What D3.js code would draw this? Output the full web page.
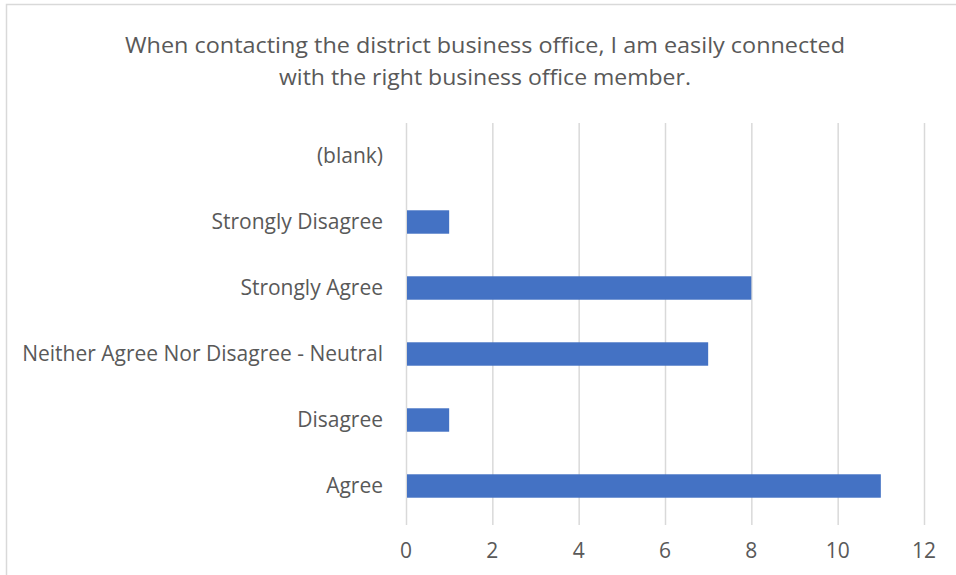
<!DOCTYPE html>
<html>
<head>
<meta charset="utf-8">
<script src="https://cdn.jsdelivr.net/npm/d3@7"></script>
<style>
  body { margin: 0; background: #fff; }
  svg text { font-family: "Open Sans", "Liberation Sans", sans-serif; fill: #595959; }
</style>
</head>
<body>
<svg id="chart" width="956" height="575"></svg>
<script>
// categories, bottom to top as in the picture
const categories = ["Agree", "Disagree", "Neither Agree Nor Disagree - Neutral", "Strongly Agree", "Strongly Disagree", "(blank)"];
const counts = [11, 1, 7, 8, 1, 0];
const xTicks = [0, 2, 4, 6, 8, 10, 12];
const titleLines = ["When contacting the district business office, I am easily connected", "with the right business office member."];

const svg = d3.select("#chart");
const plotLeft = 406, plotRight = 924, plotTop = 123, plotBottom = 519;

// outer border
svg.append("rect")
  .attr("x", 6.5).attr("y", 4.5)
  .attr("width", 960).attr("height", 600)
  .attr("fill", "none").attr("stroke", "#d9d9d9").attr("stroke-width", 1.5);

const x = d3.scaleLinear().domain([0, 12]).range([plotLeft, plotRight]);
const y = d3.scaleBand()
  .domain(categories.slice().reverse())
  .range([plotTop, plotBottom])
  .paddingInner(0.645).paddingOuter(0.3225);

// gridlines
svg.append("g").selectAll("line")
  .data(xTicks)
  .join("line")
  .attr("x1", d => x(d) + 0.5).attr("x2", d => x(d) + 0.5)
  .attr("y1", plotTop).attr("y2", plotBottom + 6)
  .attr("stroke", "#d9d9d9").attr("stroke-width", 1.5);

// bars
svg.append("g").selectAll("rect")
  .data(categories.map((c, i) => ({c, v: counts[i]})).filter(d => d.v > 0))
  .join("rect")
  .attr("x", x(0) + 1)
  .attr("y", d => y(d.c))
  .attr("width", d => x(d.v) - x(0) - 1)
  .attr("height", y.bandwidth())
  .attr("fill", "#4472c4");

// category labels
svg.append("g").selectAll("text")
  .data(categories)
  .join("text")
  .attr("x", 383)
  .attr("y", d => y(d) + y.bandwidth() / 2)
  .attr("dy", "0.35em")
  .attr("text-anchor", "end")
  .attr("font-size", 21)
  .text(d => d);

// x tick labels
svg.append("g").selectAll("text")
  .data(xTicks)
  .join("text")
  .attr("x", d => x(d))
  .attr("y", 551)
  .attr("dy", "0.35em")
  .attr("text-anchor", "middle")
  .attr("font-size", 21)
  .text(d => d);

// title
svg.append("g").selectAll("text")
  .data(titleLines)
  .join("text")
  .attr("x", 485)
  .attr("y", (d, i) => 45 + i * 32)
  .attr("dy", "0.35em")
  .attr("text-anchor", "middle")
  .attr("font-size", 22)
  .attr("textLength", (d, i) => i === 0 ? 720 : 412)
  .attr("lengthAdjust", "spacingAndGlyphs")
  .text(d => d);
</script>
</body>
</html>
